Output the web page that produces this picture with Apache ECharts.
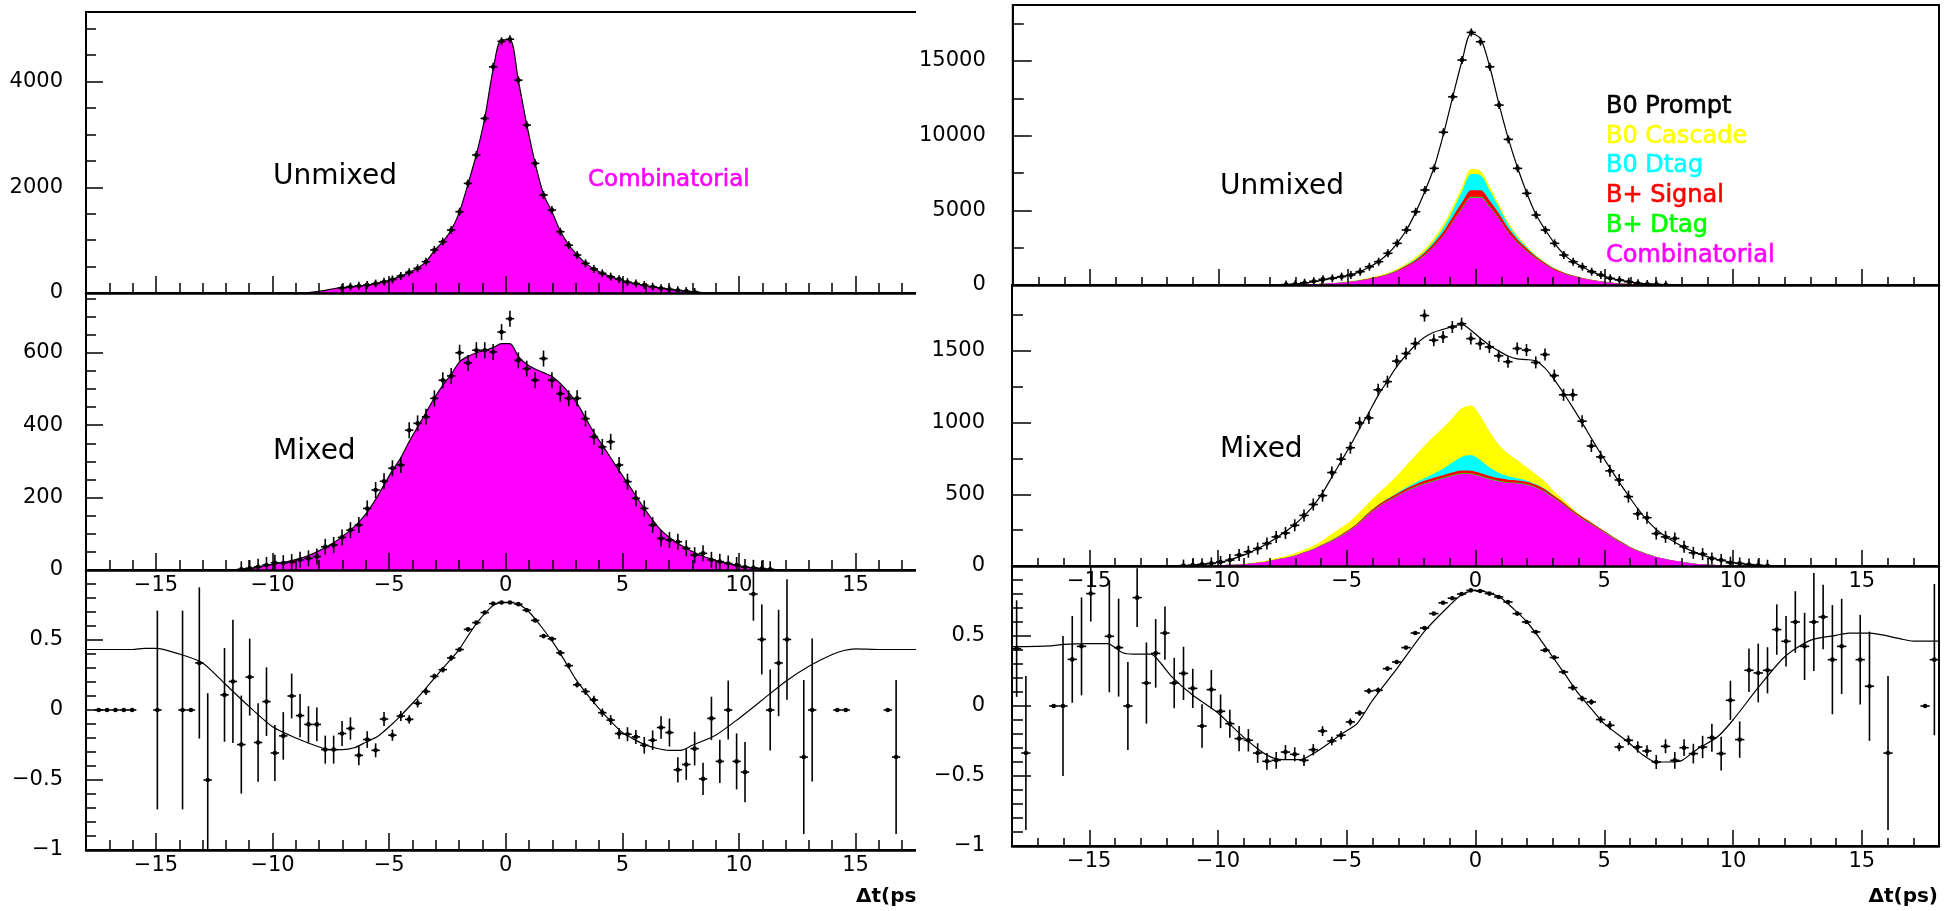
<!DOCTYPE html>
<html><head><meta charset="utf-8">
<script src="https://cdn.jsdelivr.net/npm/echarts@6/dist/echarts.min.js"></script>
<style>
html,body{margin:0;padding:0;background:#fff;width:1954px;height:911px;overflow:hidden;}
#leftWrap{position:absolute;left:0;top:0;width:916px;height:911px;overflow:hidden;}
#left{position:absolute;left:0;top:0;width:960px;height:911px;}
#right{position:absolute;left:916px;top:0;width:1038px;height:911px;}
</style></head><body>
<div id="leftWrap"><div id="left"></div></div>
<div id="right"></div>
<script>
// ---------- axes / tick labels ----------
const xMajorTicks = [-15,-10,-5,0,5,10,15];
const xMinorTicks = [-17,-16,-14,-13,-12,-11,-9,-8,-7,-6,-4,-3,-2,-1,1,2,3,4,6,7,8,9,11,12,13,14,16,17];
const leftUnmixedTicks = [0,2000,4000];
const leftUnmixedMinor = [500,1000,1500,2500,3000,3500,4500,5000];
const leftMixedTicks = [0,200,400,600];
const leftMixedMinor = [50,100,150,250,300,350,450,500,550,650,700,750];
const rightUnmixedTicks = [0,5000,10000,15000];
const rightUnmixedMinor = [2500,7500,12500,17500];
const rightMixedTicks = [0,500,1000,1500];
const rightMixedMinor = [250,750,1250,1750];
const asymTicks = [-1,-0.5,0,0.5];
const asymMinor = [-0.9,-0.8,-0.7,-0.6,-0.4,-0.3,-0.2,-0.1,0.1,0.2,0.3,0.4,0.6,0.7,0.8,0.9];

// ---------- bin centres (0.36 ps bins) ----------
const binCenters = [
 -11.34,-10.98,-10.62,-10.26,-9.90,-9.54,-9.18,-8.82,-8.46,-8.10,
 -7.74,-7.38,-7.02,-6.66,-6.30,-5.94,-5.58,-5.22,-4.86,-4.50,
 -4.14,-3.78,-3.42,-3.06,-2.70,-2.34,-1.98,-1.62,-1.26,-0.90,
 -0.54,-0.18,0.18,0.54,0.90,1.26,1.62,1.98,2.34,2.70,
 3.06,3.42,3.78,4.14,4.50,4.86,5.22,5.58,5.94,6.30,
 6.66,7.02,7.38,7.74,8.10,8.46,8.82,9.18,9.54,9.90,
 10.26,10.62,10.98,11.34];

// ---------- LEFT : Unmixed ----------
const leftUnmixedFit = [
 0,0,0,0,0,0,0,2,8,25,
 50,80,100,115,130,150,180,214,260,320,
 390,470,595,800,970,1190,1540,2060,2620,3310,
 4230,4790,4790,4020,3190,2460,1870,1540,1170,910,
 720,565,458,373,309,258,210,175,147,118,
 92,68,48,32,18,8,3,1,0,0,
 0,0,0,0];
const leftUnmixedData = [
 null,null,null,null,null,null,null,null,null,null,
 null,null,95,120,135,152,178,214,255,321,
 392,467,592,813,970,1191,1537,2073,2609,3302,
 4278,4760,4800,4026,3176,2452,1853,1569,1159,905,
 718,561,455,372,308,262,205,178,150,119,
 90,70,50,35,20,null,null,null,null,null,
 null,null,null,null];
// ---------- LEFT : Mixed ----------
const leftMixedFit = [
 3,4,8,13,17,21,26,32,40,50,
 62,75,92,110,132,160,195,235,275,310,
 355,395,435,475,510,540,575,590,600,607,
 614,625,625,590,568,555,545,535,515,490,
 460,420,380,345,310,275,240,205,170,138,
 110,90,74,60,48,38,30,23,18,13,
 9,6,4,2];
const leftMixedData = [
 2,5,9,14,20,19,22,28,32,37,
 64,69,90,110,124,170,221,245,281,290,
 386,405,423,474,524,536,600,572,607,607,
 602,657,694,579,556,524,584,524,487,474,
 474,418,368,340,354,290,244,198,170,124,
 87,83,78,60,41,46,28,23,18,14,
 8,6,4,2];
// ---------- LEFT : asymmetry ----------
const leftAsymT = [
 -17.46,-17.10,-16.74,-16.38,-16.02,
 -14.94,-13.86,-13.50,-13.14,-12.78,
 -12.06,-11.70,-11.34,-10.98,-10.62,-10.26,-9.90,-9.54,-9.18,-8.82,
 -8.46,-8.10,-7.74,-7.38,-7.02,-6.66,-6.30,-5.94,-5.58,-5.22,
 -4.86,-4.50,-4.14,-3.78,-3.42,-3.06,-2.70,-2.34,-1.98,-1.62,
 -1.26,-0.90,-0.54,-0.18,0.18,0.54,0.90,1.26,1.62,1.98,
 2.34,2.70,3.06,3.42,3.78,4.14,4.50,4.86,5.22,5.58,
 5.94,6.30,6.66,7.02,7.38,7.74,8.10,8.46,8.82,9.18,
 9.54,9.90,10.26,10.62,10.98,11.34,11.70,12.06,
 12.78,13.14,14.22,14.58,16.38,16.74];
const leftAsymVal = [
 0,0,0,0,0,
 0,0,0,0.336,-0.5,
 0.108,0.204,-0.247,0.235,-0.232,0.06,-0.307,-0.185,0.1,-0.04,
 -0.103,-0.103,-0.283,-0.283,-0.168,-0.132,-0.324,-0.211,-0.288,-0.065,
 -0.18,-0.043,-0.067,0.048,0.132,0.24,0.288,0.372,0.432,0.576,
 0.624,0.696,0.76,0.768,0.768,0.756,0.713,0.64,0.528,0.508,
 0.408,0.317,0.18,0.132,0.072,-0.019,-0.072,-0.168,-0.173,-0.192,
 -0.252,-0.216,-0.125,-0.161,-0.427,-0.389,-0.276,-0.492,-0.06,-0.367,
 0,-0.367,-0.444,0.828,0.504,0,0.336,0.504,
 -0.336,0,0,0,0,-0.336];
const leftAsymErr = [
 0,0,0,0,0,
 0.71,0.71,0,0.54,0.62,
 0.335,0.44,0.35,0.275,0.28,0.245,0.2,0.17,0.16,0.155,
 0.13,0.12,0.1,0.1,0.09,0.08,0.07,0.06,0.05,0.05,
 0.04,0.035,0.03,0.03,0.025,0.02,0.02,0.02,0.015,0.015,
 0.012,0.012,0.01,0.01,0.01,0.01,0.012,0.012,0.015,0.015,
 0.02,0.02,0.02,0.025,0.03,0.03,0.035,0.04,0.05,0.05,
 0.06,0.07,0.08,0.1,0.09,0.11,0.12,0.115,0.155,0.155,
 0.21,0.2,0.215,0.19,0.25,0.29,0.38,0.43,
 0.55,0.51,0,0,0,0.55];
const leftCurveT = [-18,-17,-16,-15.5,-15,-14,-13,-12,-11,-10,
 -9,-8,-7.5,-7,-6.5,-6,-5.5,-5,-4.5,-4,
 -3.5,-3,-2.5,-2,-1.5,-1,-0.5,0,0.5,1,
 1.5,2,2.5,3,3.5,4,4.5,5,5.5,6,
 6.5,7,7.5,8,9,10,11,12,13,14,
 14.5,15,16,17,18];
const leftCurveVal = [0.432,0.432,0.432,0.44,0.44,0.40,0.336,0.18,0.024,-0.12,
 -0.2,-0.264,-0.283,-0.283,-0.27,-0.23,-0.19,-0.12,-0.04,0.048,
 0.14,0.24,0.335,0.432,0.56,0.67,0.75,0.768,0.76,0.70,
 0.6,0.49,0.36,0.22,0.11,0.01,-0.08,-0.16,-0.21,-0.25,
 -0.275,-0.288,-0.288,-0.252,-0.18,-0.06,0.072,0.204,0.312,0.396,
 0.425,0.437,0.432,0.432,0.432];

// ---------- RIGHT : Unmixed ----------
const rightUnmixedFit = [
 0,0,0,0,0,0,0,2,5,10,
 20,35,60,120,220,330,450,560,680,900,
 1210,1580,2090,2790,3680,4880,6300,7900,10100,12600,
 15000,16850,16500,14600,12100,9800,7850,6150,4700,3680,
 2780,2050,1560,1220,890,665,460,330,220,125,
 70,40,25,15,8,4,2,0,0,0,
 0,0,0,0];
const rightUnmixedData = [
 null,null,null,null,null,null,null,null,null,null,
 null,30,60,150,250,380,448,560,669,890,
 1225,1560,2121,2790,3681,4906,6359,7812,10230,12600,
 15060,16914,16290,14612,12048,9752,7811,6138,4685,3681,
 2791,2008,1560,1225,890,669,448,335,221,114,
 67,40,20,null,null,null,null,null,null,null,
 null,null,null,null];
const rightUnmixedComb = [
 0,0,0,0,0,0,0,1,3,5,
 10,15,25,40,60,85,115,160,220,300,
 400,520,680,900,1200,1550,2000,2600,3300,4200,
 5100,5850,5850,5200,4400,3500,2800,2250,1750,1350,
 1000,760,580,430,320,230,160,100,60,35,
 20,10,5,2,0,0,0,0,0,0,
 0,0,0,0];
const rightUnmixedBpDtag = [
 0,0,0,0,0,0,0,0,0,0,
 0,0,0,0,0,0,1,2,2,3,
 4,5,7,9,12,15,20,26,33,42,
 51,58,58,52,44,35,28,22,17,13,
 10,8,6,4,3,2,2,1,0,0,
 0,0,0,0,0,0,0,0,0,0,
 0,0,0,0];
const rightUnmixedBpSignal = [
 0,0,0,0,0,0,0,0,0,0,
 1,1,2,3,5,6,9,12,16,22,
 30,39,51,67,90,116,150,195,248,315,
 382,440,440,390,330,262,210,169,131,101,
 75,57,43,32,24,17,12,8,5,3,
 2,1,0,0,0,0,0,0,0,0,
 0,0,0,0];
const rightUnmixedB0Dtag = [
 0,0,0,0,0,0,0,0,0,0,
 0,0,0,0,0,0,0,0,0,3,
 6,10,15,22,35,55,90,150,250,420,
 720,1080,1000,680,410,245,145,85,52,32,
 20,12,7,4,2,0,0,0,0,0,
 0,0,0,0,0,0,0,0,0,0,
 0,0,0,0];
const rightUnmixedB0Cascade = [
 0,0,0,0,0,0,0,0,0,0,
 0,0,0,0,5,8,12,17,24,32,
 42,55,70,88,110,135,165,200,240,280,
 315,335,310,260,200,150,110,80,58,42,
 30,21,15,10,7,4,2,0,0,0,
 0,0,0,0,0,0,0,0,0,0,
 0,0,0,0];
// ---------- RIGHT : Mixed ----------
const rightMixedFit = [
 3,6,11,18,28,42,65,90,120,155,
 195,240,290,350,420,510,620,730,840,960,
 1070,1190,1290,1390,1470,1540,1595,1630,1650,1670,
 1685,1645,1590,1540,1500,1465,1445,1440,1430,1380,
 1300,1205,1105,1000,890,785,685,585,490,400,
 320,255,205,165,130,100,76,56,40,28,
 18,11,6,3];
const rightMixedData = [
 3,6,12,18,28,41,76,99,122,157,
 203,230,284,353,429,491,652,745,825,998,
 1033,1229,1286,1429,1482,1551,1747,1575,1598,1667,
 1690,1586,1551,1528,1466,1425,1517,1506,1420,1475,
 1328,1194,1194,1010,837,761,664,600,484,364,
 337,226,203,192,134,92,83,53,41,23,
 18,10,5,2];
const rightMixedComb = [
 0,1,2,4,6,8,10,15,22,32,
 45,56,70,92,115,145,175,210,250,300,
 360,410,450,485,520,548,572,592,610,628,
 642,640,625,605,590,580,575,565,545,515,
 470,425,375,330,290,250,210,170,135,105,
 82,62,48,36,26,18,12,8,5,3,
 2,1,0,0];
const rightMixedBpDtag = [
 0,0,0,0,0,0,0,0,0,0,
 0,0,1,1,1,1,2,2,2,3,
 3,3,4,4,4,5,5,5,5,5,
 5,5,5,5,5,5,5,5,5,4,
 4,4,3,3,3,2,2,2,1,1,
 1,1,0,0,0,0,0,0,0,0,
 0,0,0,0];
const rightMixedBpSignal = [
 0,0,0,0,0,0,0,0,0,0,
 1,1,2,3,3,4,5,6,7,9,
 10,12,13,14,15,16,17,18,18,19,
 19,19,19,18,18,17,17,17,16,15,
 14,13,11,10,9,7,6,5,4,3,
 2,2,1,0,0,0,0,0,0,0,
 0,0,0,0];
const rightMixedB0Dtag = [
 0,0,0,0,0,0,0,0,0,0,
 0,0,0,0,0,0,0,0,0,0,
 0,0,3,5,8,12,18,28,45,70,
 95,110,90,60,38,24,15,10,6,4,
 2,0,0,0,0,0,0,0,0,0,
 0,0,0,0,0,0,0,0,0,0,
 0,0,0,0];
const rightMixedB0Cascade = [
 0,0,0,0,0,0,3,4,6,8,
 10,12,16,17,22,30,42,48,55,65,
 70,82,95,122,153,189,228,262,287,308,
 339,346,311,252,194,159,128,93,68,52,
 30,18,11,5,3,2,1,0,0,0,
 0,0,0,0,0,0,0,0,0,0,
 0,0,0,0];
// ---------- RIGHT : asymmetry ----------
const rightAsymT = [
 -17.82,-17.46,-16.38,-16.02,-15.66,-15.30,-14.94,-14.22,-13.86,-13.50,
 -13.14,-12.78,-12.42,-12.06,-11.70,-11.34,-10.98,-10.62,-10.26,-9.90,
 -9.54,-9.18,-8.82,-8.46,-8.10,-7.74,-7.38,-7.02,-6.66,-6.30,
 -5.94,-5.58,-5.22,-4.86,-4.50,-4.14,-3.78,-3.42,-3.06,-2.70,
 -2.34,-1.98,-1.62,-1.26,-0.90,-0.54,-0.18,0.18,0.54,0.90,
 1.26,1.62,1.98,2.34,2.70,3.06,3.42,3.78,4.14,4.50,
 4.86,5.22,5.58,5.94,6.30,6.66,7.02,7.38,7.74,8.10,
 8.46,8.82,9.18,9.54,9.90,10.26,10.62,10.98,11.34,11.70,
 12.06,12.42,12.78,13.14,13.50,13.86,14.22,14.94,15.30,16.02,
 17.46,17.82];
const rightAsymVal = [
 0.41,-0.336,0,0,0.333,0.426,0.803,0.498,0.417,0,
 0.774,0.164,0.376,0.521,0.164,0.233,0.126,-0.143,0.117,-0.038,
 -0.126,-0.233,-0.245,-0.336,-0.395,-0.388,-0.329,-0.345,-0.388,-0.312,
 -0.179,-0.25,-0.209,-0.114,-0.05,0.107,0.112,0.267,0.314,0.417,
 0.521,0.557,0.66,0.737,0.77,0.8,0.826,0.821,0.803,0.779,
 0.743,0.66,0.6,0.529,0.398,0.346,0.243,0.131,0.053,0.029,
 -0.097,-0.138,-0.293,-0.245,-0.293,-0.321,-0.4,-0.288,-0.388,-0.298,
 -0.34,-0.293,-0.226,-0.34,0.041,-0.24,0.255,0.236,0.255,0.546,
 0.462,0.6,0.426,0.6,0.636,0.331,0.426,0.331,0.141,-0.336,
 0,0.331];
const rightAsymErr = [
 0.345,0.55,0,0.5,0.31,0.35,0.2,0.4,0.35,0.315,
 0.21,0.29,0.245,0.19,0.18,0.19,0.14,0.155,0.14,0.12,
 0.1,0.09,0.08,0.07,0.06,0.06,0.05,0.05,0.04,0.04,
 0.035,0.03,0.03,0.025,0.02,0.02,0.02,0.015,0.015,0.012,
 0.012,0.01,0.01,0.01,0.008,0.008,0.008,0.008,0.008,0.008,
 0.01,0.01,0.01,0.012,0.012,0.015,0.015,0.02,0.02,0.02,
 0.025,0.03,0.03,0.035,0.04,0.04,0.05,0.05,0.06,0.06,
 0.07,0.08,0.1,0.12,0.14,0.13,0.155,0.21,0.165,0.18,
 0.18,0.22,0.24,0.35,0.23,0.39,0.34,0.32,0.39,0.55,
 0,0.54];
const rightCurveT = [-18,-16.5,-16,-15,-14.3,-13.7,-13.3,-12.6,-12.2,-11.8,
 -11,-10,-9.2,-8.5,-8,-7.5,-6.8,-6.3,-5.9,-5.2,
 -4.6,-4,-3,-2,-1,-0.5,0,0.5,1,1.5,
 2,2.5,3,3.5,4,4.5,5,6,6.5,7,
 7.5,8,8.6,9.4,10,11,12,13,14,14.5,
 15.3,16.5,17,18];
const rightCurveVal = [0.424,0.43,0.44,0.445,0.445,0.38,0.37,0.37,0.3,0.21,
 0.08,-0.05,-0.19,-0.3,-0.36,-0.383,-0.383,-0.34,-0.293,-0.2,
 -0.126,0.04,0.28,0.53,0.72,0.8,0.826,0.81,0.77,0.69,
 0.6,0.48,0.35,0.22,0.088,-0.02,-0.126,-0.269,-0.35,-0.4,
 -0.4,-0.39,-0.31,-0.22,-0.1,0.136,0.35,0.469,0.505,0.52,
 0.52,0.48,0.464,0.464];

const legendNames = ['B0 Prompt','B0 Cascade','B0 Dtag','B+ Signal','B+ Dtag','Combinatorial'];
const legendColors = ['#000000','#ffff00','#00ffff','#ff0000','#00ff00','#ff00ff'];

// ---------- helpers ----------
const FONT = '"DejaVu Sans", Arial, sans-serif';
function pairs(xs, ys){ const o=[]; for(let i=0;i<xs.length;i++){ if(ys[i]!=null) o.push([xs[i], ys[i]]); } return o; }
function triples(xs, ys, es){ const o=[]; for(let i=0;i<xs.length;i++) o.push([xs[i], ys[i], es[i]]); return o; }
function minusFmt(v){ return v < 0 ? '\u2212' + String(-v) : String(v); }
// cumulative sums of stacked components (bottom -> top)
function cumulate(layers){
  const out=[]; let acc = layers[0].map(()=>0);
  layers.forEach(l=>{ acc = acc.map((a,i)=>a + l[i]); out.push(acc.slice()); });
  return out;
}

function crossRenderer(halfBin, fixedPx){
  return function(params, api){
    const t = api.value(0), v = api.value(1);
    const c = api.coord([t, v]);
    const l = api.coord([t - halfBin, v]);
    const r = api.coord([t + halfBin, v]);
    let top, bot;
    if (fixedPx != null){ top = c[1] - fixedPx; bot = c[1] + fixedPx; }
    else { const e = api.value(2); top = api.coord([t, v + e])[1]; bot = api.coord([t, v - e])[1]; }
    const st = {stroke:'#000', lineWidth:1.6};
    const ch = [{type:'line', shape:{x1:l[0], y1:c[1], x2:r[0], y2:c[1]}, style:st}];
    if (bot - top > 1) ch.push({type:'line', shape:{x1:c[0], y1:top, x2:c[0], y2:bot}, style:st});
    ch.push({type:'circle', shape:{cx:c[0], cy:c[1], r:2.3}, style:{fill:'#000'}});
    return {type:'group', children:ch};
  };
}

function buildSide(s){
  const grid=[], xAxis=[], yAxis=[], series=[];
  s.panels.forEach((p,i)=>{
    grid.push({left:s.left, right:s.right, top:p.top, height:p.height, show:true, borderColor:'#000', borderWidth:2, backgroundColor:'transparent'});
    const lab = {fontFamily:FONT, fontSize:21, color:'#000'};
    xAxis.push({type:'value', gridIndex:i, min:-18, max:18, position:'bottom',
      axisLine:{show:true, onZero:false, lineStyle:{color:'#000', width:2.5}},
      axisTick:{show:true, inside:true, length:s.xMaj, customValues:xMajorTicks, lineStyle:{color:'#000', width:1.5}},
      axisLabel:Object.assign({show:!!p.xLabels, customValues:xMajorTicks, formatter:minusFmt, margin:5}, lab),
      splitLine:{show:false}, z:10});
    xAxis.push({type:'value', gridIndex:i, min:-18, max:18, position:'bottom',
      axisLine:{show:false, onZero:false},
      axisTick:{show:true, inside:true, length:s.xMin, customValues:xMinorTicks, lineStyle:{color:'#000', width:1.5}},
      axisLabel:{show:false}, splitLine:{show:false}, z:10});
    yAxis.push({type:'value', gridIndex:i, min:p.yMin, max:p.yMax, position:'left',
      axisLine:{show:true, onZero:false, lineStyle:{color:'#000', width:2}},
      axisTick:{show:true, inside:true, length:s.yMaj, customValues:p.yTicks, lineStyle:{color:'#000', width:1.5}},
      axisLabel:Object.assign({show:true, customValues:p.yTicks, formatter:minusFmt, margin:s.yMargin}, lab),
      splitLine:{show:false}, z:10});
    yAxis.push({type:'value', gridIndex:i, min:p.yMin, max:p.yMax, position:'left',
      axisLine:{show:false, onZero:false},
      axisTick:{show:true, inside:true, length:s.yMin, customValues:p.yMinor, lineStyle:{color:'#000', width:1.5}},
      axisLabel:{show:false}, splitLine:{show:false}, z:10});
    const ax = {xAxisIndex:2*i, yAxisIndex:2*i};
    if (p.stacks){
      const cum = cumulate(p.stacks.map(st=>st.values));
      // draw top-most cumulative layer first, bottom component last (on top)
      for (let k = p.stacks.length - 1; k >= 0; k--){
        series.push(Object.assign({type:'line', name:p.stacks[k].name, data:pairs(binCenters, cum[k]),
          symbol:'none', smooth:0.3, lineStyle:{width:0}, areaStyle:{color:p.stacks[k].color, opacity:1}, z:2, silent:true}, ax));
      }
    }
    if (p.fit){
      const fs = Object.assign({type:'line', data:pairs(p.fitT || binCenters, p.fit), symbol:'none', smooth:p.smooth,
        lineStyle:{color:'#000', width:1.2}, z:3, silent:true}, ax);
      if (p.fitFill) fs.areaStyle = {color:p.fitFill, opacity:1};
      series.push(fs);
    }
    if (p.points){
      series.push(Object.assign({type:'custom', clip:true, z:4, silent:true,
        renderItem:crossRenderer(0.18, p.errPx), data:p.points}, ax));
    }
  });
  return {grid, xAxis, yAxis, series};
}

function textEl(x, y, txt, font, color, align, stroke){
  const st = {text:txt, font:font, fill:color, align:align||'left', textAlign:align||'left', verticalAlign:'middle', textVerticalAlign:'middle'};
  if (stroke){ st.stroke = color; st.lineWidth = stroke; }
  return {type:'text', x:x, y:y, silent:true, z:100, style:st};
}

// ---------- LEFT chart ----------
const leftSide = buildSide({
  left:86, right:34.5, xMaj:17, xMin:10, yMaj:17, yMin:10, yMargin:23,
  panels:[
    {top:12, height:281, yMin:0, yMax:5315, yTicks:leftUnmixedTicks, yMinor:leftUnmixedMinor,
     fit:leftUnmixedFit, fitFill:'#ff00ff', smooth:0.3, points:pairs(binCenters, leftUnmixedData), errPx:4},
    {top:293, height:277, yMin:0, yMax:765, yTicks:leftMixedTicks, yMinor:leftMixedMinor, xLabels:true,
     fit:leftMixedFit, fitFill:'#ff00ff', smooth:0.3, points:pairs(binCenters, leftMixedData), errPx:8},
    {top:570, height:280, yMin:-1, yMax:1, yTicks:asymTicks, yMinor:asymMinor, xLabels:true,
     fit:leftCurveVal, fitT:leftCurveT, smooth:0.25, points:triples(leftAsymT, leftAsymVal, leftAsymErr)}
  ]});
leftSide.animation = false;
leftSide.backgroundColor = '#fff';
leftSide.graphic = [
  textEl(273, 177, 'Unmixed', '28px ' + FONT, '#000'),
  textEl(588, 180, 'Combinatorial', '23px ' + FONT, '#ff00ff', 'left', 0.6),
  textEl(273, 452, 'Mixed', '28px ' + FONT, '#000'),
  textEl(925.5, 897, '\u0394t(ps)', 'bold 20px ' + FONT, '#000', 'right')
];
const leftChart = echarts.init(document.getElementById('left'), null, {renderer:'canvas'});
leftChart.setOption(leftSide);

// ---------- RIGHT chart ----------
const rightSide = buildSide({
  left:96, right:15, xMaj:16, xMin:8, yMaj:19, yMin:11, yMargin:27,
  panels:[
    {top:5, height:280, yMin:0, yMax:18750, yTicks:rightUnmixedTicks, yMinor:rightUnmixedMinor,
     stacks:[
       {name:legendNames[5], values:rightUnmixedComb, color:legendColors[5]},
       {name:legendNames[4], values:rightUnmixedBpDtag, color:legendColors[4]},
       {name:legendNames[3], values:rightUnmixedBpSignal, color:legendColors[3]},
       {name:legendNames[2], values:rightUnmixedB0Dtag, color:legendColors[2]},
       {name:legendNames[1], values:rightUnmixedB0Cascade, color:legendColors[1]}],
     fit:rightUnmixedFit, smooth:0.3, points:pairs(binCenters, rightUnmixedData), errPx:4},
    {top:285, height:281, yMin:0, yMax:1960, yTicks:rightMixedTicks, yMinor:rightMixedMinor, xLabels:true,
     stacks:[
       {name:legendNames[5], values:rightMixedComb, color:legendColors[5]},
       {name:legendNames[4], values:rightMixedBpDtag, color:legendColors[4]},
       {name:legendNames[3], values:rightMixedBpSignal, color:legendColors[3]},
       {name:legendNames[2], values:rightMixedB0Dtag, color:legendColors[2]},
       {name:legendNames[1], values:rightMixedB0Cascade, color:legendColors[1]}],
     fit:rightMixedFit, smooth:0.3, points:pairs(binCenters, rightMixedData), errPx:6},
    {top:566, height:280, yMin:-1, yMax:1, yTicks:asymTicks, yMinor:asymMinor, xLabels:true,
     fit:rightCurveVal, fitT:rightCurveT, smooth:0.25, points:triples(rightAsymT, rightAsymVal, rightAsymErr)}
  ]});
rightSide.animation = false;
rightSide.backgroundColor = '#fff';
const legendY = [107,137,166,196,226,256];
rightSide.graphic = [
  textEl(304, 187, 'Unmixed', '28px ' + FONT, '#000'),
  textEl(304, 450, 'Mixed', '28px ' + FONT, '#000'),
  textEl(1022, 897, '\u0394t(ps)', 'bold 20px ' + FONT, '#000', 'right')
].concat(legendNames.map((n,k)=>textEl(690, legendY[k], n, '24px ' + FONT, legendColors[k], 'left', 0.6)));
const rightChart = echarts.init(document.getElementById('right'), null, {renderer:'canvas'});
rightChart.setOption(rightSide);
</script>
</body></html>
